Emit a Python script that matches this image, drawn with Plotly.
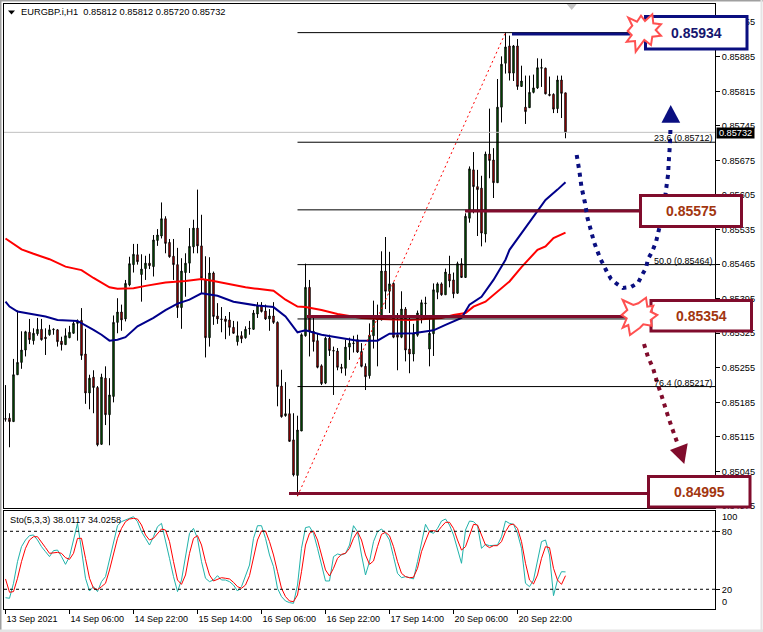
import numpy as np
import plotly.graph_objects as go

W = 763
H = 632
PAGE_H = 635

# prices in points (1 point = 0.00001)
opens = [85152,85153,85146,85241,85266,85291,85327,85310,85324,85333,
         85317,85322,85332,85332,85309,85302,85316,85325,85345,85351,
         85283,85204,85236,85215,85100,85234,85160,85197,85347,85368,
         85354,85423,85464,85484,85444,85456,85467,85460,85513,85522,
         85557,85509,85481,85464,85377,85448,85467,85500,85538,85502,
         85433,85316,85447,85360,85354,85354,85352,85337,85308,85320,
         85316,85334,85333,85364,85381,85370,85354,85360,85347,85218,
         85158,85162,85109,85037,85127,85320,85418,85329,85310,85259,
         85224,85315,85290,85289,85256,85254,85297,85304,85312,85288,
         85258,85239,85320,85352,85352,85451,85410,85426,85322,85317,
         85374,85293,85283,85321,85362,85385,85293,85324,85408,85425,
         85403,85445,85433,85406,85466,85438,85558,85656,85622,85619,
         85526,85688,85676,85630,85783,85872,85907,85852,85907,85825,
         85783,85782,85813,85822,85862,85862,85809,85809,85780,85838,85812]
highs = [85220,85163,85273,85371,85329,85330,85354,85335,85356,85354,
         85335,85342,85335,85333,85318,85335,85340,85349,85353,85376,
         85334,85241,85250,85218,85243,85258,85234,85361,85396,85383,
         85433,85480,85506,85506,85485,85482,85486,85524,85536,85590,
         85562,85516,85516,85498,85477,85487,85538,85555,85616,85565,
         85481,85479,85450,85386,85378,85360,85368,85350,85349,85329,
         85339,85350,85372,85388,85388,85383,85374,85388,85349,85251,
         85226,85192,85163,85158,85325,85466,85433,85359,85325,85262,
         85318,85322,85298,85295,85263,85312,85316,85320,85322,85305,
         85264,85345,85391,85383,85491,85520,85490,85428,85366,85410,
         85378,85362,85344,85371,85393,85399,85356,85426,85428,85428,
         85456,85482,85448,85470,85477,85568,85663,85692,85656,85644,
         85693,85780,85700,85840,85886,85934,85928,85909,85921,85867,
         85847,85847,85849,85882,85881,85863,85845,85811,85847,85847,85812]
lows = [85146,85094,85146,85241,85253,85278,85303,85302,85320,85310,
        85281,85320,85322,85298,85290,85302,85315,85324,85310,85271,
        85182,85171,85163,85096,85099,85139,85098,85185,85325,85330,
        85349,85420,85448,85464,85389,85433,85455,85440,85502,85517,
        85487,85478,85433,85356,85334,85399,85447,85487,85487,85406,
        85276,85298,85342,85344,85327,85313,85320,85324,85300,85305,
        85314,85322,85332,85356,85367,85352,85330,85344,85177,85154,
        85156,85106,85035,84995,85127,85318,85278,85288,85254,85220,
        85222,85279,85200,85250,85244,85239,85271,85286,85285,85256,
        85210,85233,85294,85258,85351,85374,85366,85315,85250,85315,
        85268,85244,85268,85318,85345,85362,85258,85279,85394,85401,
        85403,85418,85396,85405,85437,85437,85549,85568,85522,85501,
        85509,85639,85599,85630,85752,85851,85837,85836,85818,85824,
        85749,85782,85811,85820,85824,85809,85805,85771,85771,85761,85720]
closes = [85151,85146,85241,85266,85291,85328,85312,85325,85333,85312,
          85314,85332,85333,85308,85302,85320,85327,85345,85349,85280,
          85204,85234,85215,85099,85236,85160,85200,85347,85368,85352,
          85426,85466,85485,85470,85455,85467,85462,85514,85524,85557,
          85507,85480,85464,85377,85451,85467,85501,85538,85502,85437,
          85316,85447,85359,85354,85353,85349,85337,85325,85320,85314,
          85333,85335,85366,85381,85369,85354,85360,85347,85217,85156,
          85162,85106,85038,85129,85322,85418,85329,85308,85256,85223,
          85315,85290,85289,85256,85254,85297,85305,85305,85287,85258,
          85237,85321,85352,85358,85451,85410,85425,85317,85317,85374,
          85291,85283,85325,85366,85387,85386,85325,85413,85425,85403,
          85449,85431,85405,85466,85438,85562,85658,85622,85616,85528,
          85688,85675,85630,85783,85870,85905,85852,85907,85825,85836,
          85774,85813,85822,85863,85863,85810,85807,85779,85838,85811,85732]

ma_red_bars = [0,4,7,11,15,19,22,26,28,32,35,40,45,49,52,56,60,63,67,70,
               73,75,79,83,85,89,94,101,109,112,115,117,120,122,126,129,133,135,137,140]
ma_red = [85517,85495,85486,85475,85460,85453,85437,85418,85415,85416,
          85421,85428,85431,85435,85431,85424,85418,85415,85411,85393,
          85379,85378,85372,85364,85361,85356,85354,85352,85356,85362,
          85366,85379,85389,85403,85430,85459,85494,85501,85518,85529]
ma_blue_bars = [0,1,3,7,10,13,18,22,24,26,28,30,33,37,40,43,46,49,53,57,63,67,
                70,73,75,79,83,88,93,96,102,107,110,114,116,119,122,125,126,129,132,135,138,140]
ma_blue = [85389,85379,85369,85364,85359,85352,85350,85332,85322,85310,
           85312,85317,85339,85356,85372,85385,85393,85406,85401,85389,
           85381,85378,85359,85327,85331,85322,85317,85310,85310,85324,
           85325,85331,85342,85356,85383,85399,85433,85474,85494,85528,
           85562,85595,85616,85631]

sto_main = [11.3,10.7,26.2,48.6,64.1,71,75.5,76.2,71,64.1,
            58.9,53.8,60,60.6,53.8,45.8,53.8,71,88.2,60.6,
            31.4,18.2,22.7,17.6,27.9,33.1,50.3,69.3,85.8,90,
            91.7,92.7,95.1,90,79.6,72.7,65.8,74.4,84.8,88.2,
            71,52,33.1,17.6,29.6,55.5,77.9,83,72.7,48.6,
            31.4,27.9,29.6,34.1,29.6,29.6,27.9,24.4,18.2,22.7,
            33.1,45.1,72.7,85.8,85.8,72.7,55.5,43.4,21,12.4,
            7.9,6.2,5.5,24.4,62.4,83.8,84.8,77.9,62.4,45.1,
            28.6,28.6,53.8,56.5,55.5,57.2,65.8,85.8,79.6,55.5,
            34.8,48.6,69.3,79.6,82.4,77.9,71,53.8,36.5,32,
            33.1,32,30.7,48.6,69.3,87.2,79.6,77.9,83,90.6,
            92.7,86.5,76.2,60.6,46.9,81.3,90.6,90,85.8,62.4,
            66.5,65.1,65.1,65.8,74.4,90.6,88.2,87.2,77.9,62.4,
            26.2,22.7,29.6,48.6,69.3,71,55.5,13.4,29.6,38.2,38.01]
sto_signal = [30.7,16.9,17.6,31.4,48.6,62.4,71,74.4,74.4,69.3,
              63.1,57.2,57.9,58.2,57.2,52.7,51,57.2,72.7,72.7,
              52,31.4,21,19.6,22.7,26.2,40,55.5,72.7,83,
              90,92.7,93.4,92.7,86.5,76.2,71,72.7,77.9,82.4,
              81.3,69.3,48.6,29.6,25.1,34.8,57.2,72.7,75.5,65.8,
              48.6,34.8,28.6,30.7,32,31.4,30.7,27.2,22.7,21,
              24.4,34.1,52,71,80.3,80.3,69.3,55.5,38.2,21,
              12.4,7.9,7.2,14.1,38.2,65.8,77.9,80.3,71,55.5,
              40,33.8,41.7,52,56.2,57.2,62.4,72.7,79.6,71,
              55.5,45.8,49.3,64.1,76.9,78.9,75.5,64.1,48.6,36.5,
              33.1,32,32.4,41.7,58.9,70,80.3,80.7,79.6,84.8,
              89.3,89.3,83,71,60.6,64.1,76.2,87.2,86.5,76.2,
              65.8,63.1,65.1,65.1,69.3,79.6,86.5,87.5,83,69.3,
              46.9,29.6,25.5,34.8,52,64.1,63.1,41.7,29.6,25.1,34.03]

price_ticks = [0.85955,0.85885,0.85815,0.85745,0.85675,0.85605,0.85535,0.85465,
               0.85395,0.85325,0.85255,0.85185,0.85115,0.85045,0.84975]
time_bars = [0,16,32,48,64,80,96,112,128]
time_labels = ["13 Sep 2021","14 Sep 06:00","14 Sep 22:00","15 Sep 14:00","16 Sep 06:00",
               "16 Sep 22:00","17 Sep 14:00","20 Sep 06:00","20 Sep 22:00"]

fib_levels = [0.85934,0.85712,0.85575,0.85464,0.85354,0.85217]
fib_texts = {"23.6 (0.85712)":0.85712,"50.0 (0.85464)":0.85464,"76.4 (0.85217)":0.85217}
fib_start = 73
swing_bars = [73,125]
swing_prices = [0.84995,0.85934]
last_price = 0.85732

NAVY = "#0a0f80"
MAROON = "#800c2c"
TXT = "Liberation Sans"


def px(x):
    return x / W


def py(y):
    return 1 - y / H


def path(points, close=False):
    s = "M " + " L ".join("%.5f %.5f" % (px(a), py(b)) for a, b in points)
    return s + (" Z" if close else "")


def pts(a):
    return np.array(a) / 100000


bars = list(range(len(opens)))
x_range = [(4 - 5.5) / 4, (715 - 5.5) / 4]

fig = go.Figure()
fig.add_trace(go.Candlestick(x=bars, open=pts(opens), high=pts(highs), low=pts(lows), close=pts(closes),
                             whiskerwidth=0, hoverinfo="skip",
                             increasing=dict(line=dict(color="black", width=1), fillcolor="#008000"),
                             decreasing=dict(line=dict(color="black", width=1), fillcolor="#ff0000")))
fig.add_trace(go.Scatter(x=ma_red_bars, y=pts(ma_red), mode="lines", line=dict(color="#ff0000", width=2)))
fig.add_trace(go.Scatter(x=ma_blue_bars, y=pts(ma_blue), mode="lines", line=dict(color="#00008b", width=2)))

# fibo levels
for lv in fib_levels:
    fig.add_trace(go.Scatter(x=[fib_start, x_range[1]], y=[lv, lv], mode="lines", line=dict(color="black", width=1)))
fig.add_trace(go.Scatter(x=swing_bars, y=swing_prices, mode="lines",
                         line=dict(color="#ff0000", width=1, dash="2px,3px")))
fig.add_trace(go.Scatter(x=x_range, y=[last_price, last_price], mode="lines", line=dict(color="#c0c0c0", width=1)))

# stochastic
fig.add_trace(go.Scatter(x=bars, y=sto_main, mode="lines", xaxis="x2", yaxis="y2",
                         line=dict(color="#20b2aa", width=1)))
fig.add_trace(go.Scatter(x=bars, y=sto_signal, mode="lines", xaxis="x2", yaxis="y2",
                         line=dict(color="#ff0000", width=1)))
for lv in [80, 20]:
    fig.add_trace(go.Scatter(x=x_range, y=[lv, lv], mode="lines", xaxis="x2", yaxis="y2",
                             line=dict(color="black", width=1, dash="3px,3px")))

shapes = []
# thick level lines
for x0, x1, y, col in [(512, 630, 34, NAVY), (465, 640, 211, MAROON), (307, 625, 316.5, MAROON), (289, 650, 493.5, MAROON)]:
    shapes.append(dict(type="line", xref="paper", yref="paper", x0=px(x0), x1=px(x1), y0=py(y), y1=py(y),
                       line=dict(color=col, width=3), layer="above"))

# dotted arrows
blue_curve = [(576.7,155),(578,163),(579.5,172),(581.5,187),(585,203),(587.5,218),(590,227),(594,242),(597,250),
              (600,258),(603,264),(607,272),(611,279),(617,284),(623,288),(631,287),(638,283),(642,275),(646,268),
              (648,259),(652,252),(656,242),(660,225),(664,208),(666,190),(668,175),(669,158),(670,143),(670.5,127)]
shapes.append(dict(type="path", xref="paper", yref="paper", path=path(blue_curve),
                   line=dict(color=NAVY, width=4, dash="4px,5px"), layer="above"))
shapes.append(dict(type="path", xref="paper", yref="paper", path=path([(670.7,105),(661.5,122.7),(680.2,122.7)], True),
                   fillcolor=NAVY, line=dict(color=NAVY, width=0), layer="above"))
red_curve = [(644,344),(648,357),(653,368),(657,382),(662,397),(667,413),(672,428),(677,442)]
shapes.append(dict(type="path", xref="paper", yref="paper", path=path(red_curve),
                   line=dict(color=MAROON, width=4, dash="4px,5px"), layer="above"))
shapes.append(dict(type="path", xref="paper", yref="paper", path=path([(670,450),(687.7,443.3),(684.3,464)], True),
                   fillcolor=MAROON, line=dict(color=MAROON, width=0), layer="above"))

# value boxes
boxes = [(645.5, 16.5, 747, 49, NAVY, "0.85934", "#15156e"),
         (640.5, 195.5, 741.5, 226.5, MAROON, "0.85575", "#a2360f"),
         (651, 300.5, 751.5, 331, MAROON, "0.85354", "#a2360f"),
         (648.5, 476.5, 750, 507, MAROON, "0.84995", "#a2360f")]
annotations = []
for x0, y0, x1, y1, col, label, tcol in boxes:
    shapes.append(dict(type="rect", xref="paper", yref="paper", x0=px(x0), x1=px(x1), y0=py(y0), y1=py(y1),
                       fillcolor="white", line=dict(color=col, width=3), layer="above"))
    annotations.append(dict(x=px((x0 + x1) / 2), y=py((y0 + y1) / 2), xref="paper", yref="paper", text="<b>%s</b>" % label,
                            xanchor="center", yanchor="middle", showarrow=False,
                            font=dict(family="Liberation Sans", size=14, color=tcol)))

# starbursts
star_a = [(628.3,17.7),(637,21.7),(641,15.7),(645,21),(652.3,14.3),(653.3,23.3),(661,24.3),(655.7,30),(661,35.7),
          (652.3,36.7),(651,45),(644.3,40),(635.7,51.7),(635,41),(626.7,41.7),(631.7,35),(627.7,31),(632.3,25.7)]
star_b = [(622.7,300),(633.3,305),(638.3,303.3),(646,297.7),(647.3,306.7),(653.3,305.7),(650.7,311.7),(657.3,315),
          (650.7,320),(651.7,325.7),(643.3,324.3),(640,327.7),(630,335),(628.3,325),(622.7,327.7),(626.7,318.3),
          (621.7,315),(627.3,310)]
for star in [star_a, star_b]:
    shapes.append(dict(type="path", xref="paper", yref="paper", path=path(star, True), fillcolor="white",
                       line=dict(color="#ff5050", width=2), layer="above"))

# little markers
shapes.append(dict(type="path", xref="paper", yref="paper", path=path([(8,10.5),(15,10.5),(11.5,14.5)], True),
                   fillcolor="black", line=dict(width=0), layer="above"))
shapes.append(dict(type="path", xref="paper", yref="paper", path=path([(566.7,4),(576.7,4),(571.7,10)], True),
                   fillcolor="#c4c4c4", line=dict(width=0), layer="above"))

# window edge
shapes.append(dict(type="line", xref="paper", yref="paper", x0=px(0.5), x1=px(0.5), y0=0, y1=1,
                   line=dict(color="#a0a0a0", width=2), layer="above"))
shapes.append(dict(type="line", xref="paper", yref="paper", x0=0, x1=1, y0=py(0.5), y1=py(0.5),
                   line=dict(color="#a0a0a0", width=2), layer="above"))
shapes.append(dict(type="line", xref="paper", yref="paper", x0=0, x1=1, y0=py(631), y1=py(631),
                   line=dict(color="#e4e4e4", width=3), layer="above"))
shapes.append(dict(type="line", xref="paper", yref="paper", x0=px(761.5), x1=px(761.5), y0=0, y1=1,
                   line=dict(color="#e4e4e4", width=2), layer="above"))

annotations.append(dict(x=px(18.5), y=py(12.5), xref="paper", yref="paper", xanchor="left", yanchor="middle", showarrow=False,
                        text="EURGBP.i,H1  0.85812 0.85812 0.85720 0.85732",
                        font=dict(family=TXT, size=9.3, color="black")))
annotations.append(dict(x=px(7.5), y=py(520), xref="paper", yref="paper", xanchor="left", yanchor="middle", showarrow=False,
                        text="Sto(5,3,3) 38.0117 34.0258", font=dict(family=TXT, size=9.2, color="black")))
for text, lv in fib_texts.items():
    annotations.append(dict(x=px(714), y=lv, xref="paper", yref="y", xanchor="right", yanchor="bottom", showarrow=False,
                            text=text, borderpad=0, yshift=-2, font=dict(family=TXT, size=9, color="black")))
annotations.append(dict(x=px(735.5), y=py(132.5), xref="paper", yref="paper", xanchor="center", yanchor="middle",
                        showarrow=False, text="0.85732", bgcolor="black", borderpad=0, width=37, height=10,
                        font=dict(family=TXT, size=9.2, color="white")))
annotations.append(dict(x=px(720), y=py(517), xref="paper", yref="paper", xanchor="left", yanchor="middle", showarrow=False,
                        text="100", font=dict(family=TXT, size=9.2, color="black")))
annotations.append(dict(x=px(720), y=py(602), xref="paper", yref="paper", xanchor="left", yanchor="middle", showarrow=False,
                        text="0", font=dict(family=TXT, size=9.2, color="black")))

fig.update_layout(
    width=W, height=PAGE_H, margin=dict(l=0, r=0, t=0, b=0), paper_bgcolor="white", plot_bgcolor="white",
    showlegend=False, boxgap=0.5, shapes=shapes, annotations=annotations, hovermode=False,
    xaxis=dict(domain=[px(4), px(715)], range=x_range, anchor="y", showgrid=False, zeroline=False, rangeslider=dict(visible=False),
               showticklabels=False, ticks="", showline=True, mirror=True, linecolor="black", linewidth=1),
    yaxis=dict(domain=[py(508), py(4)], range=[0.84971, 0.85992], side="right", anchor="x", showgrid=False, zeroline=False,
               tickvals=price_ticks, ticktext=["%.5f" % v for v in price_ticks], ticks="outside", ticklen=4, tickcolor="black",
               showline=True, mirror=True, linecolor="black", linewidth=1, tickfont=dict(family=TXT, size=9.2, color="black")),
    xaxis2=dict(domain=[px(4), px(715)], range=x_range, anchor="y2", showgrid=False, zeroline=False,
                tickvals=time_bars, ticktext=time_labels, ticks="outside", ticklen=4, tickcolor="black",
                ticklabelposition="outside right", tickangle=0, ticklabelstandoff=1,
                showline=True, mirror=True, linecolor="black", linewidth=1, tickfont=dict(family=TXT, size=9, color="black")),
    yaxis2=dict(domain=[py(609), py(511)], range=[-0.4, 101], side="right", anchor="x2", showgrid=False, zeroline=False,
                tickvals=[80, 20], ticktext=["80", "20"], ticks="outside", ticklen=4, tickcolor="black",
                showline=True, mirror=True, linecolor="black", linewidth=1, tickfont=dict(family=TXT, size=9.2, color="black")),
)

# page margin off, so the picture sits flush with the window
fig.write_html("out.html", config={"displayModeBar": False},
               post_script="document.body.style.margin='0';document.body.style.overflow='hidden';")
